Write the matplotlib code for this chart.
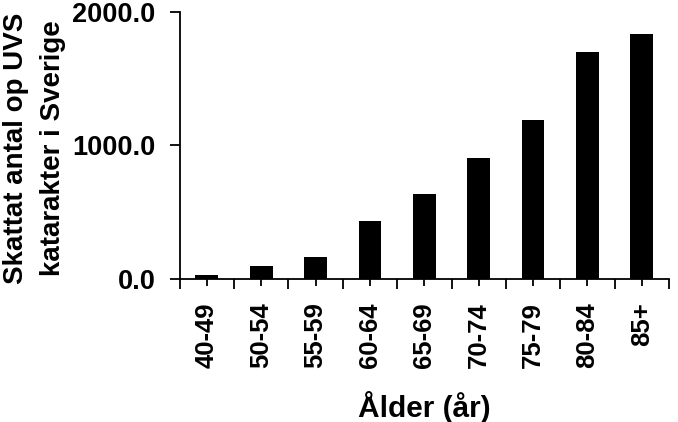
import matplotlib
matplotlib.use('Agg')
import matplotlib.pyplot as plt
import numpy as np

age_groups = ['40-49', '50-54', '55-59', '60-64', '65-69', '70-74', '75-79', '80-84', '85+']
cataract_counts = [34, 102, 169, 438, 640, 909, 1193, 1696, 1831]
y_ticks = [0, 1000, 2000]

plt.rcParams['font.family'] = 'Liberation Sans'
plt.rcParams['font.weight'] = 'bold'

fig = plt.figure(figsize=(6.78, 4.22), dpi=100)
ax = fig.add_axes([0.265, 0.3382, 0.7217, 0.6341])

x = np.arange(len(age_groups))
ax.bar(x, cataract_counts, width=0.42, color='black')

ax.set_xlim(-0.5, len(age_groups) - 0.5)
ax.set_ylim(0, 2000)

# spines: only left and bottom
for side in ['top', 'right']:
    ax.spines[side].set_visible(False)
for side in ['left', 'bottom']:
    ax.spines[side].set_linewidth(1.3)

# y axis
ax.set_yticks(y_ticks)
ax.set_yticklabels([f'{v:.1f}' for v in y_ticks])
ax.tick_params(axis='y', direction='out', length=7, width=1.3, pad=10.5, labelsize=19.5)

# x axis: labelled ticks at bar centres, longer minor ticks between groups
ax.set_xticks(x)
ax.set_xticklabels(age_groups, rotation=90, va='top')
ax.set_xticks(np.arange(-0.5, len(age_groups)), minor=True)
ax.tick_params(axis='x', which='major', direction='out', length=4.8, width=1.3, pad=12, labelsize=18.5)
ax.tick_params(axis='x', which='minor', direction='out', length=7.2, width=1.3)

ax.set_xlabel('Ålder (år)', fontsize=21.5, fontweight='bold')
ax.xaxis.set_label_coords(0.5, -0.513)
ax.xaxis.label.set_va('baseline')

ax.set_ylabel('Skattat antal op UVS\nkatarakter i Sverige', fontsize=20,
              fontweight='bold', linespacing=1.55)
ax.yaxis.set_label_coords(-0.2324, 0.49)

fig.savefig('out.png', dpi=100)
